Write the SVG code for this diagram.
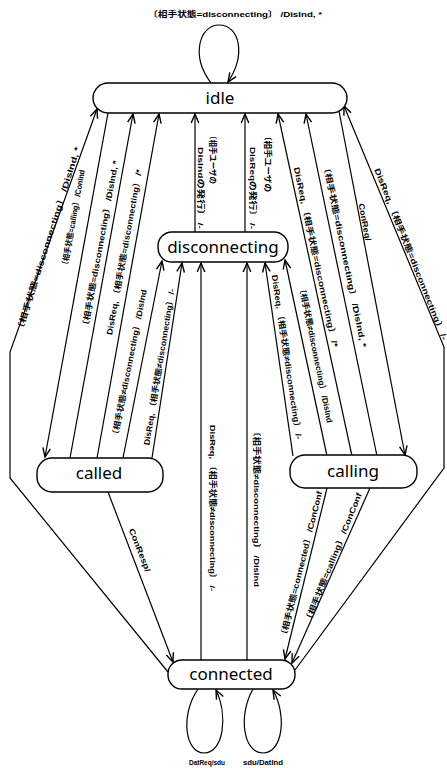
<svg xmlns="http://www.w3.org/2000/svg" width="447" height="768" viewBox="0 0 447 768">
<style>
.st{fill:#fff;stroke:#000;stroke-width:1.4}
.nm{font-family:"Noto Sans","Liberation Sans",sans-serif;font-size:17px;text-anchor:middle;fill:#000}
.ln{fill:none;stroke:#000;stroke-width:1.2}
.lb{font-family:"Liberation Sans","Noto Sans CJK JP",sans-serif;font-size:8px;font-weight:bold;text-anchor:middle;fill:#000}
</style>
<defs>
<marker id="ar" markerWidth="12" markerHeight="12" viewBox="-10 -5 12 10" refX="0" refY="0" orient="auto" markerUnits="userSpaceOnUse">
<path d="M-9,-3.8 L0,0 L-9,3.8" fill="none" stroke="#000" stroke-width="1.4"/>
</marker>
</defs>
<rect width="447" height="768" fill="#fff"/>
<g id="connectors">
<path class="ln" d="M168,672 L10,478 L10,352 L97,109" marker-end="url(#ar)"/>
<path class="ln" d="M108,113 L45,457" marker-end="url(#ar)"/>
<path class="ln" d="M70,458 L133,114" marker-end="url(#ar)"/>
<path class="ln" d="M97,458 L159,114" marker-end="url(#ar)"/>
<path class="ln" d="M123,458 L162,261" marker-end="url(#ar)"/>
<path class="ln" d="M152,458 L182,263" marker-end="url(#ar)"/>
<path class="ln" d="M195,232 L195,114" marker-end="url(#ar)"/>
<path class="ln" d="M245,232 L245,114" marker-end="url(#ar)"/>
<path class="ln" d="M201,660 L201,263" marker-end="url(#ar)"/>
<path class="ln" d="M247,660 L247,263" marker-end="url(#ar)"/>
<path class="ln" d="M293,456 L265,263" marker-end="url(#ar)"/>
<path class="ln" d="M327,456 L285,260" marker-end="url(#ar)"/>
<path class="ln" d="M352,456 L278,114" marker-end="url(#ar)"/>
<path class="ln" d="M377,456 L306,114" marker-end="url(#ar)"/>
<path class="ln" d="M339,111 L405,455" marker-end="url(#ar)"/>
<path class="ln" d="M295,670 L444,468 L444,347 L344,106" marker-end="url(#ar)"/>
<path class="ln" d="M108,492 L173,662" marker-end="url(#ar)"/>
<path class="ln" d="M327,488 L285,659" marker-end="url(#ar)"/>
<path class="ln" d="M370,488 L292,663" marker-end="url(#ar)"/>
<path class="ln" d="M211,83 C190,55 200,25 219,25 C240,25 246,55 228,82" marker-end="url(#ar)"/>
<path class="ln" d="M198,689 C180,715 185,753 204,753 C224,753 228,715 216,690" marker-end="url(#ar)"/>
<path class="ln" d="M253,689 C238,715 243,753 263,753 C283,753 287,715 273,690" marker-end="url(#ar)"/>

<text class="lb" x="235" y="17" textLength="174" lengthAdjust="spacingAndGlyphs">〔相手状態=disconnecting〕 /DisInd, *</text>
<text class="lb" transform="translate(48,240) rotate(-72.4)" dy="3" textLength="195" lengthAdjust="spacingAndGlyphs">〔相手状態=disconnecting〕 /DisInd, *</text>
<text class="lb" transform="translate(73,219) rotate(-79.8)" dy="3" textLength="100" lengthAdjust="spacingAndGlyphs">〔相手状態=calling〕 /ConInd</text>
<text class="lb" transform="translate(100,245) rotate(-79.6)" dy="3" textLength="172" lengthAdjust="spacingAndGlyphs">〔相手状態=disconnecting〕 /DisInd, *</text>
<text class="lb" transform="translate(124,252) rotate(-79.8)" dy="3" textLength="168" lengthAdjust="spacingAndGlyphs">DisReq, 〔相手状態=disconnecting〕 /*</text>
<text class="lb" transform="translate(129,364) rotate(-78.8)" dy="3" textLength="152" lengthAdjust="spacingAndGlyphs">〔相手状態≠disconnecting〕 /DisInd</text>
<text class="lb" transform="translate(159,367) rotate(-80.7)" dy="3" textLength="158" lengthAdjust="spacingAndGlyphs">DisReq, 〔相手状態≠disconnecting〕 /-</text>
<text class="lb" transform="translate(213,158) rotate(90)" dy="3" textLength="52" lengthAdjust="spacingAndGlyphs">〔相手ユーザの</text>
<text class="lb" transform="translate(201,188) rotate(90)" dy="3" textLength="82" lengthAdjust="spacingAndGlyphs">DisIndの発行〕 /-</text>
<text class="lb" transform="translate(268,162) rotate(90)" dy="3" textLength="60" lengthAdjust="spacingAndGlyphs">〔相手ユーザの</text>
<text class="lb" transform="translate(253,188) rotate(90)" dy="3" textLength="82" lengthAdjust="spacingAndGlyphs">DisReqの発行〕 /-</text>
<text class="lb" transform="translate(213,508) rotate(90)" dy="3" textLength="166" lengthAdjust="spacingAndGlyphs">DisReq, 〔相手状態≠disconnecting〕 /-</text>
<text class="lb" transform="translate(257,507) rotate(90)" dy="3" textLength="160" lengthAdjust="spacingAndGlyphs">〔相手状態≠disconnecting〕 /DisInd</text>
<text class="lb" transform="translate(287,357) rotate(81.5)" dy="3" textLength="166" lengthAdjust="spacingAndGlyphs">DisReq, 〔相手状態≠disconnecting〕 /-</text>
<text class="lb" transform="translate(316,354) rotate(78.4)" dy="3" textLength="140" lengthAdjust="spacingAndGlyphs">〔相手状態≠disconnecting〕 /DisInd</text>
<text class="lb" transform="translate(316,257) rotate(77.8)" dy="3" textLength="184" lengthAdjust="spacingAndGlyphs">DisReq, 〔相手状態=disconnecting〕 /*</text>
<text class="lb" transform="translate(345,255) rotate(78.3)" dy="3" textLength="188" lengthAdjust="spacingAndGlyphs">〔相手状態=disconnecting〕 /DisInd, *</text>
<text class="lb" transform="translate(365,222) rotate(79.1)" dy="3" textLength="38" lengthAdjust="spacingAndGlyphs">ConReq/</text>
<text class="lb" transform="translate(411,254) rotate(68.3)" dy="3" textLength="184" lengthAdjust="spacingAndGlyphs">DisReq, 〔相手状態=disconnecting〕 /-</text>
<text class="lb" transform="translate(140,550) rotate(68.6)" dy="3" textLength="46" lengthAdjust="spacingAndGlyphs">ConResp/</text>
<text class="lb" transform="translate(301,565) rotate(-76)" dy="3" textLength="152" lengthAdjust="spacingAndGlyphs">〔相手状態=connected〕 /ConConf</text>
<text class="lb" transform="translate(333,558) rotate(-68)" dy="3" textLength="140" lengthAdjust="spacingAndGlyphs">〔相手状態=calling〕 /ConConf</text>
<text class="lb" x="207" y="765" textLength="36" lengthAdjust="spacingAndGlyphs">DatReq/sdu</text>
<text class="lb" x="263" y="765" textLength="40" lengthAdjust="spacingAndGlyphs">sdu/DatInd</text>
</g>
<g id="idle"><rect class="st" x="93" y="83" width="254" height="30" rx="15"/><text class="nm" x="220" y="104">idle</text></g>
<g id="disconnecting"><rect class="st" x="158" y="232" width="130" height="30" rx="14"/><text class="nm" x="223" y="253">disconnecting</text></g>
<g id="called"><rect class="st" x="37" y="458" width="126" height="34" rx="15"/><text class="nm" x="99" y="479">called</text></g>
<g id="calling"><rect class="st" x="290" y="455" width="127" height="33" rx="15"/><text class="nm" x="353" y="477">calling</text></g>
<g id="connected"><rect class="st" x="168" y="660" width="127" height="29" rx="14"/><text class="nm" x="231" y="680">connected</text></g>
</svg>
